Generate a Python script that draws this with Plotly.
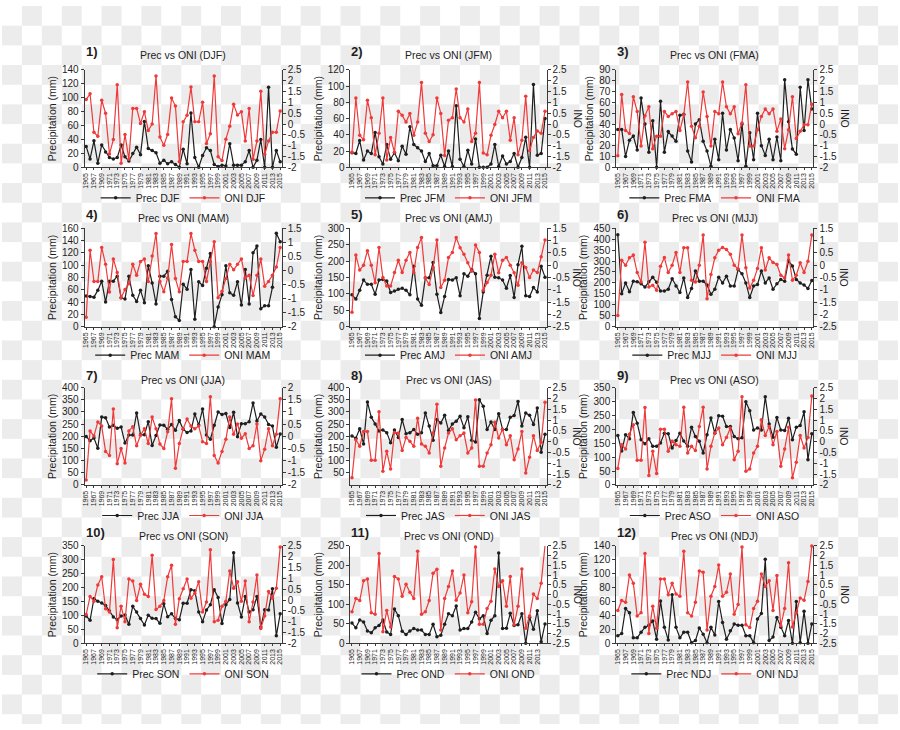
import zlib, struct, base64
import numpy as np
import plotly.graph_objects as go

years = list(range(1965, 2016))
x_ticks = list(range(1965, 2016, 2))
x_ticks_ond = list(range(1965, 2014, 2))

prec_djf = [30,12,38,6,32,22,14,12,14,32, 15,9,20,29,18,66,27,24,21,6, 10,5,8,4,0,26,5,78,14,0,
            17,28,24,4,1,3,2,34,3,3, 3,8,24,0,10,40,0,115,0,24, 8]
oni_djf = [1.13,1.4,-0.38,-0.57,1.1,0.5,-1.39,-0.72,1.81,-1.81, -0.48,-1.63,0.72,0.72,0.03,0.57,-0.3,0.0,2.22,-0.6,
           -0.98,-0.48,1.2,0.83,-1.74,0.1,0.4,1.71,0.1,0.1, 1.01,-0.9,-0.45,2.22,-1.51,-1.69,-0.7,-0.1,0.91,0.42,
           0.57,-0.79,0.72,-1.63,-0.79,1.51,-1.4,-0.79,-0.38,-0.38, 0.6]

prec_jfm = [18,17,33,9,20,17,43,13,4,28, 10,18,8,26,16,50,28,24,20,7, 17,2,2,15,1,20,1,76,10,1,
            21,4,35,0,0,0,4,28,1,14, 4,7,17,0,12,37,0,102,15,17, 60]
oni_jfm = [-1.3,1.2,-0.52,-0.73,1.1,0.29,-1.42,-0.43,1.2,-1.66, -0.62,-1.31,0.59,0.4,0.09,0.49,-0.52,0.09,1.92,-0.43,
           -0.81,-0.5,1.2,0.49,-1.46,0.18,0.29,1.62,0.29,0.09, 0.7,-0.81,-0.43,1.92,-1.34,-1.42,-0.52,-0.02,0.59,0.29,
           0.59,-0.75,0.29,-1.42,-0.75,1.28,-1.23,-0.62,-0.32,-0.43, 0.59]

prec_fma = [35,35,10,25,29,16,64,40,14,43, 0,61,14,33,29,24,48,49,15,5, 40,44,24,15,1,26,7,50,16,35,
            27,6,40,1,32,7,50,20,11,26, 7,28,6,81,42,17,12,74,34,81, 54]
oni_fma = [-1.47,1.36,-0.3,-0.44,1.26,0.58,-1.02,0.38,0.8,-1.14, -0.56,-0.56,0.58,0.35,0.47,0.58,-0.3,0.42,1.94,-0.1,
           -0.64,-0.1,1.48,0.35,-1.02,0.58,0.47,1.94,0.8,0.47, 0.8,-0.45,0.05,1.82,-1.02,-1.02,-0.26,0.35,0.7,0.47,
           0.7,-0.33,0.23,-1.14,-0.26,1.26,-0.67,-0.33,-0.03,-0.03, 0.91]

prec_mam = [50,49,48,59,74,40,74,74,82,47, 45,82,51,41,59,39,99,71,37,82, 82,90,44,16,10,69,61,93,12,73,
            67,95,119,0,32,52,99,55,51,73, 35,93,37,120,131,29,34,34,64,152, 138]
oni_mam = [-1.67,0.72,-0.39,-0.39,0.82,0.22,-0.77,0.41,-0.07,-0.97, -0.68,-0.47,0.22,-0.17,0.32,0.41,-0.39,0.51,1.31,-0.39,
           -0.76,-0.27,0.92,-0.29,-0.76,0.32,0.32,1.31,0.72,0.32, 0.32,-0.39,0.32,1.02,-0.97,-0.74,-0.29,0.22,0.02,0.22,
           0.41,-0.27,-0.17,-0.89,-0.17,0.41,-0.56,-0.39,-0.17,0.12, 0.82]

prec_amj = [97,84,111,142,129,129,99,142,144,139, 104,109,114,117,111,97,184,84,65,149, 149,196,99,43,92,144,142,149,94,161,
            154,174,161,25,106,157,215,151,149,142, 117,156,89,189,245,94,92,119,106,184, 151]
oni_amj = [-1.91,0.41,-0.2,0.0,0.59,0.0,-0.72,0.72, -0.5,-0.85,-0.85,-0.3,0.2,-0.3,0.2,0.52,-0.3,0.72,1.12,
           -0.52,-0.79,-0.1,1.02,-0.91,-0.61,0.31,0.52, 1.12, 0.71,0.44,0.1,-0.25,0.82,0.51,
           -1.02,-0.71,-0.41,0.44,-0.31,0.2,0.31,0.0,-0.31,-0.82,0.1,-0.1,-0.5,-0.2,-0.3,0.34,1.02]

prec_mjj = [420,151,200,160,208,205,196,181,205,226, 203,163,163,171,219,186,156,223,133,175, 254,208,208,190,148,171,226,200,231,186,
            186,261,242,200,133,186,193,254,200,223, 171,196,216,208,302,277,216,200,190,175, 211]
oni_mjj = [-2.05,0.2,0.0,0.3,0.41,-0.3,-0.68,0.93,-0.89,-0.82, -1.02,-0.04,0.31,-0.3,0.0,0.52,-0.3,0.71,0.71,-0.61,
           -0.68,0.0,1.23,-1.37,-0.38,0.3,0.61,0.72,0.64,0.44, 0.0,-0.16,1.23,-0.11,-0.93,-0.61,-0.14,0.71,-0.2,0.3,
           0.11,0.03,-0.41,-0.52,0.41,-0.61,-0.41,0.1,-0.3,0.16, 1.23]

prec_jja = [199,182,193,151,279,276,238,245,233,238, 172,205,205,296,206,206,260,162,203,246, 245,229,249,225,265,229,216,222,292,246,
            312,205,188,245,300,290,294,236,299,198, 252,252,260,337,263,292,279,249,242,155, 209]
oni_jja = [-1.8,0.22,0.01,0.59,0.42,-0.62,-0.79,1.12,-1.13,-0.5, -1.1,0.22,0.39,-0.39,0.04,0.31,-0.3,0.79,0.31,-0.32,
           -0.5,0.19,1.54,-1.31,-0.3,0.31,0.71,0.42,0.31,0.42, -0.22,-0.3,1.63,-0.79,-1.1,-0.62,-0.12,0.79,0.08,0.51,
           -0.08,0.11,-0.5,-0.39,0.51,-1.0,-0.53,0.31,-0.39,0.08, 1.54]

prec_jas = [201,192,231,168,341,278,251,222,226,215, 174,226,195,269,211,215,228,208,215,296, 242,184,269,255,286,224,251,262,282,235,
            280,184,177,350,323,228,259,228,293,228, 228,278,285,343,242,296,286,249,316,134, 208]
oni_jas = [-1.67,0.09,-0.21,0.47,0.47,-0.86,-0.86,1.39,-1.36,-0.44, -1.26,0.43,0.4,-0.41,0.2,0.02,-0.21,1.09,-0.11,-0.21,
           -0.52,0.4,1.73,-1.13,-0.29,0.4,0.6,0.09,0.28,0.4, -0.52,-0.29,1.93,-1.13,-1.13,-0.52,-0.14,0.9,0.17,0.58,
           -0.14,0.28,-0.83,-0.34,0.47,-1.44,-0.72,0.28,-0.41,-0.03, 1.82]

prec_aso = [178,122,181,166,261,222,163,148,166,139, 139,151,186,184,133,160,186,158,139,208, 174,157,115,181,241,186,249,247,210,210,
            174,166,170,299,267,198,205,198,317,219, 172,243,198,196,240,163,208,214,263,91, 184]
oni_aso = [-1.24,-0.14,-0.34,0.35,0.78,-0.86,-0.86,1.58,-1.56,-0.44, -1.47,0.58,0.58,-0.44,0.02,-0.14,-0.21,1.59,-0.52,-0.21,
           -0.41,0.7,1.59,-1.26,-0.21,0.4,0.63,-0.14,0.2,0.63, -0.83,-0.44,2.08,-1.36,-1.26,-0.52,-0.21,1.01,0.29,0.7,
           -0.14,0.47,-1.13,-0.34,0.67,-1.67,-0.95,0.29,-0.29,0.2, 2.11]

prec_son = [98,83,161,151,145,136,116,95,85,98, 102,69,133,113,89,66,101,90,89,72, 142,96,106,89,85,144,144,193,189,113,
            78,120,139,193,165,71,139,158,326,145, 95,168,113,121,168,59,121,120,196,27, 106]
oni_son = [-0.67,0.17,-0.06,0.7,1.08,-0.4,-0.55,1.87,-1.28,-0.29, -1.0,0.97,0.88,-0.02,0.73,0.27,0.17,2.07,-0.44,-0.29,
           -0.02,1.08,1.61,-1.12,0.06,0.52,0.97,0.09,0.32,0.85, -0.55,-0.09,2.33,-1.0,-0.93,-0.29,-0.06,1.34,0.55,0.85,
           -0.06,0.88,-1.0,-0.09,1.16,-1.31,-0.74,0.4,0.09,0.55, 2.45]

prec_ond = [52,40,60,55,32,27,40,46,60,29, 23,88,71,31,23,32,38,34,34,23, 23,49,17,21,49,76,71,96,34,38,
            38,55,80,63,71,25,59,71,232,38, 39,77,46,48,76,0,67,36,84,4, 50]
oni_ond = [-0.88,-0.2,-0.3,0.71,0.81,-0.93,-1.01,2.11,-1.91,-0.81, -1.66,0.93,0.81,-0.08,0.54,0.12,-0.2,2.23,-1.01,-0.88,
           -0.3,1.1,1.3,-1.82,-0.2,0.42,1.22,-0.29,0.08,1.01, -0.93,-0.37,2.45,-1.52,-1.52,-0.71,-0.34,1.32,0.42,0.71,
           -0.59,0.93,-1.55,-0.59,1.32,-1.72,-1.1,0.03,-0.2,0.59, 2.53]

prec_ndj = [11,14,50,44,8,8,16,23,26,32, 6,61,23,5,70,23,8,16,16,1, 4,22,13,1,23,12,60,30,6,18,
            28,26,26,11,11,1,35,43,121,4, 9,37,23,11,33,0,60,1,46,0, 28]
oni_ndj = [-0.81,-0.3,-0.39,1.01,0.59,-1.1,-0.93,2.11,-1.99,-0.59, -1.72,0.81,0.81,0.0,0.59,0.03,-0.08,2.23,-0.93,-1.1,
           -0.39,1.22,1.15,-1.82,-0.08,0.42,1.52,-0.08,0.12,1.06, -1.01,-0.51,2.45,-1.55,-1.69,-0.71,-0.34,1.06,0.42,0.71,
           -0.81,0.98,-1.6,-0.71,1.64,-1.66,-0.93,-0.17,-0.29,0.68, 2.5]

seasons = ["DJF", "JFM", "FMA", "MAM", "AMJ", "MJJ", "JJA", "JAS", "ASO", "SON", "OND", "NDJ"]
prec_all = [prec_djf, prec_jfm, prec_fma, prec_mam, prec_amj, prec_mjj,
            prec_jja, prec_jas, prec_aso, prec_son, prec_ond, prec_ndj]
oni_all = [oni_djf, oni_jfm, oni_fma, oni_mam, oni_amj, oni_mjj,
           oni_jja, oni_jas, oni_aso, oni_son, oni_ond, oni_ndj]
prec_ranges = [(0, 140), (0, 120), (0, 90), (0, 160), (0, 300), (0, 450),
               (0, 400), (0, 400), (0, 350), (0, 350), (0, 250), (0, 140)]
prec_dticks = [20, 20, 10, 20, 50, 50, 50, 50, 50, 50, 50, 20]
oni_ranges = [(-2, 2.5), (-2, 2.5), (-2, 2.5), (-2, 1.5), (-2.5, 1.5), (-2.5, 1.5),
              (-2, 2), (-2, 2.5), (-2, 2.5), (-2, 2.5), (-2.5, 2.5), (-2.5, 2.5)]

# ---------------- layout geometry (pixels) ----------------
W, H = 900, 730
col_px = [(83, 281), (350, 547), (617, 815)]
row_px = [(65, 164), (226, 326), (388, 487), (549, 648)]
title_py = [50, 216, 380, 539]
legend_py = [195, 355, 518, 679]

FONT = "Liberation Sans, Arial, sans-serif"
BLACK = "#1e1e1e"
RED = "#f03a3a"
AXC = "#3a3a3a"


def fx(px):
    return px / W


def fy(py):
    return 1 - py / H


# checkerboard background (transparent-image pattern)
SQ, OX, OY = 20, 0, 0
yy, xx = np.mgrid[0:H, 0:W]
mask = (((xx + OX) // SQ + (yy + OY) // SQ) % 2).astype(bool)
c_light = np.array([255, 255, 255], dtype=np.uint8)
c_dark = np.array([236, 236, 236], dtype=np.uint8)
img = np.where(mask[..., None], c_dark, c_light).astype(np.uint8)
raw = b"".join(b"\x00" + img[r].tobytes() for r in range(H))


def _chunk(t, d):
    return struct.pack(">I", len(d)) + t + d + struct.pack(">I", zlib.crc32(t + d) & 0xffffffff)


png = (b"\x89PNG\r\n\x1a\n" + _chunk(b"IHDR", struct.pack(">IIBBBBB", W, H, 8, 2, 0, 0, 0))
       + _chunk(b"IDAT", zlib.compress(raw, 9)) + _chunk(b"IEND", b""))
bg_src = "data:image/png;base64," + base64.b64encode(png).decode()

fig = go.Figure()
layout = dict(
    width=W, height=H, margin=dict(l=0, r=0, t=0, b=0),
    paper_bgcolor="white", plot_bgcolor="rgba(0,0,0,0)",
    font=dict(family=FONT, color=BLACK, size=10),
    showlegend=True,
    images=[dict(source=bg_src, xref="paper", yref="paper", x=0, y=1, sizex=1, sizey=1,
                 sizing="stretch", layer="below", xanchor="left", yanchor="top")],
    annotations=[],
)

for k in range(12):
    r, c = divmod(k, 3)
    xa = "x" if k == 0 else f"x{k + 1}"
    yl = f"y{2 * k + 1}" if k > 0 else "y"
    yr = f"y{2 * k + 2}"
    leg = "legend" if k == 0 else f"legend{k + 1}"
    s = seasons[k]

    fig.add_trace(go.Scatter(
        x=years, y=prec_all[k], xaxis=xa, yaxis=yl, name=f"Prec {s}", legend=leg,
        mode="lines+markers", line=dict(color=BLACK, width=1.2),
        marker=dict(color=BLACK, size=3.5), cliponaxis=False))
    fig.add_trace(go.Scatter(
        x=years, y=oni_all[k], xaxis=xa, yaxis=yr, name=f"ONI {s}", legend=leg,
        mode="lines+markers", line=dict(color=RED, width=1.2),
        marker=dict(color=RED, size=3.5), cliponaxis=False))

    x0, x1 = col_px[c]
    y0, y1 = row_px[r]
    xkey = "xaxis" if k == 0 else f"xaxis{k + 1}"
    ylkey = "yaxis" if k == 0 else f"yaxis{2 * k + 1}"
    yrkey = f"yaxis{2 * k + 2}"

    tv = x_ticks_ond if s == "OND" else x_ticks
    layout[xkey] = dict(
        domain=[fx(x0), fx(x1)], anchor=yl, range=[1964.6, 2015.4],
        tickvals=tv, ticktext=[str(v) for v in tv], tickangle=-90,
        tickfont=dict(size=7, color=BLACK), ticks="outside", ticklen=2, tickcolor=AXC,
        showline=True, linecolor=AXC, linewidth=1, showgrid=False, zeroline=False)

    lo, hi = prec_ranges[k]
    dt = prec_dticks[k]
    ptv = list(range(lo, hi + 1, dt))
    if s == "JAS":
        ptv = [v for v in ptv if v > 0]
    layout[ylkey] = dict(
        domain=[fy(y1), fy(y0)], anchor=xa, range=[lo, hi],
        tickvals=ptv, ticks="outside", ticklen=3, tickcolor=AXC,
        tickfont=dict(size=10, color=BLACK),
        title=dict(text="Precipitation (mm)", font=dict(size=10.5, color=BLACK), standoff=3),
        showline=True, linecolor=AXC, linewidth=1, showgrid=False, zeroline=False)

    olo, ohi = oni_ranges[k]
    otv = [olo + 0.5 * i for i in range(int(round((ohi - olo) / 0.5)) + 1)]
    layout[yrkey] = dict(
        overlaying=yl, side="right", anchor=xa, range=[olo, ohi],
        tickvals=otv, ticktext=["%g" % v for v in otv],
        ticks="outside", ticklen=3, tickcolor=AXC,
        tickfont=dict(size=10, color=BLACK),
        showline=True, linecolor=AXC, linewidth=1, showgrid=False, zeroline=False)

    layout[leg] = dict(
        x=fx((x0 + x1) / 2), y=fy(legend_py[r]), xanchor="center", yanchor="middle",
        orientation="h", font=dict(size=10.5, color=BLACK), bgcolor="rgba(0,0,0,0)",
        itemwidth=30, tracegroupgap=0)

    layout["annotations"].append(dict(
        text=f"Prec vs ONI ({s})", x=fx((x0 + x1) / 2), y=fy(title_py[r]),
        xref="paper", yref="paper", showarrow=False, xanchor="center", yanchor="middle",
        font=dict(size=10.5, color=BLACK)))
    layout["annotations"].append(dict(
        text=f"<b>{k + 1})</b>", x=fx(x0 - 1), y=fy(title_py[r] - 4),
        xref="paper", yref="paper", showarrow=False, xanchor="left", yanchor="middle",
        font=dict(size=13, color=BLACK)))
    if c > 0:
        layout["annotations"].append(dict(
            text="ONI", x=fx(x1 + 31), y=fy((y0 + y1) / 2), textangle=-90,
            xref="paper", yref="paper", showarrow=False, xanchor="center", yanchor="middle",
            font=dict(size=10.5, color=BLACK)))

fig.update_layout(**layout)
fig.write_html("out.html")
